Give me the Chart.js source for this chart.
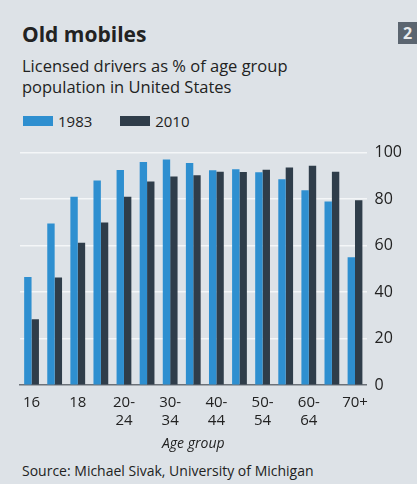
<!DOCTYPE html>
<html>
<head>
<meta charset="utf-8">
<script src="https://cdn.jsdelivr.net/npm/chart.js@4"></script>
<style>
  body { margin: 0; width: 417px; height: 484px; background: #dde2e7; font-family: "Open Sans", sans-serif; color: #222; position: relative; overflow: hidden; }
  #title { position: absolute; left: 22px; top: 20px; font-size: 21px; font-weight: bold; }
  #sub { position: absolute; left: 22px; top: 55px; font-size: 16.5px; line-height: 21px; }
  #legend { position: absolute; left: 23px; top: 111px; font-size: 15px; }
  #legend span.box { display: inline-block; width: 30px; height: 10px; margin-right: 5px; vertical-align: 1px; }
  #legend span.item { margin-right: 24px; }
  #source { position: absolute; left: 22px; top: 461px; font-size: 14px; }
  #badge { position: absolute; left: 398px; top: 22px; width: 19px; height: 22px; background: #5b6570; color: #e8eaec; font-weight: bold; font-size: 16px; text-align: center; line-height: 22px; }
  #wrap { position: absolute; left: 0; top: 135px; width: 417px; height: 321px; }
</style>
</head>
<body>
<div id="title">Old mobiles</div>
<div id="sub">Licensed drivers as % of age group<br>population in United States</div>
<div id="legend">
  <span class="item"><span class="box" style="background:#2e8fd0"></span>1983</span>
  <span class="item"><span class="box" style="background:#2f3d4a"></span>2010</span>
</div>
<div id="badge">2</div>
<div id="wrap"><canvas id="chart"></canvas></div>
<div id="source">Source: Michael Sivak, University of Michigan</div>
<script>
// Datos
const ageGroups = ["16", "17", "18", "19", "20-24", "25-29", "30-34", "35-39", "40-44", "45-49", "50-54", "55-59", "60-64", "65-69", "70+"];
const tickLabels = ["16", "", "18", "", ["20-", "24"], "", ["30-", "34"], "", ["40-", "44"], "", ["50-", "54"], "", ["60-", "64"], "", "70+"];
const drivers1983 = [46.5, 69.5, 81, 88, 92.5, 96, 97, 95.5, 92.4, 92.8, 91.5, 88.5, 83.8, 79, 55];
const drivers2010 = [28.3, 46.3, 61.2, 70, 81, 87.6, 89.7, 90.3, 91.8, 91.7, 92.6, 93.6, 94.3, 91.8, 79.5];

new Chart(document.getElementById("chart"), {
  type: "bar",
  data: {
    labels: ageGroups,
    datasets: [
      { label: "1983", data: drivers1983, backgroundColor: "#2e8fd0" },
      { label: "2010", data: drivers2010, backgroundColor: "#2f3d4a" }
    ]
  },
  options: {
    responsive: true,
    maintainAspectRatio: false,
    animation: false,
    layout: { padding: { left: 20, right: 7, top: 4 } },
    datasets: { bar: { categoryPercentage: 0.64, barPercentage: 1 } },
    plugins: { legend: { display: false }, tooltip: { enabled: false } },
    scales: {
      x: {
        grid: { display: false },
        border: { color: "#6b7178", width: 1.5 },
        ticks: {
          autoSkip: false,
          maxRotation: 0,
          color: "#222",
          font: { family: "Open Sans", size: 15 },
          padding: 1,
          callback: (v, i) => tickLabels[i]
        },
        title: {
          display: true,
          text: "Age group",
          color: "#222",
          font: { family: "Open Sans", size: 14, style: "italic" },
          padding: { top: 4 }
        }
      },
      y: {
        position: "right",
        min: 0,
        max: 100,
        border: { display: false },
        grid: {
          color: (c) => c.tick.value === 0 ? "rgba(0,0,0,0)" : "#f4f6f8",
          lineWidth: 1.5,
          drawTicks: false
        },
        ticks: {
          stepSize: 20,
          color: "#222",
          font: { family: "Open Sans", size: 16 },
          padding: 8
        }
      }
    }
  }
});
</script>
</body>
</html>
